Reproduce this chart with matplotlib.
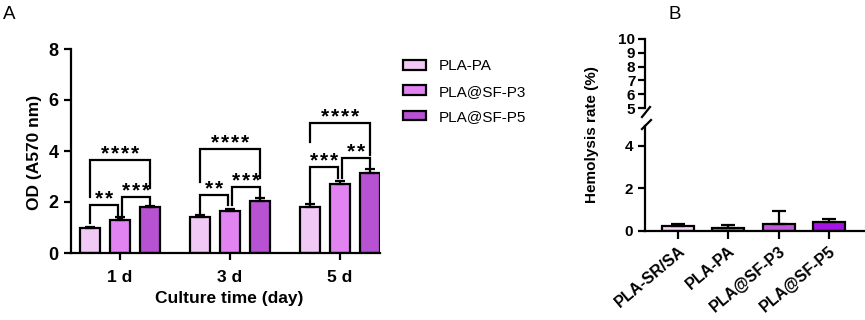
import matplotlib
matplotlib.use("Agg")
import matplotlib.pyplot as plt
from matplotlib.lines import Line2D
from matplotlib.patches import Patch
import numpy as np

plt.rcParams['font.family'] = ['Liberation Sans', 'DejaVu Sans']

# ---------------- data ----------------
days = ['1 d', '3 d', '5 d']
series_a = ['PLA-PA', 'PLA@SF-P3', 'PLA@SF-P5']
od_pa = [1.00, 1.40, 1.80]
od_p3 = [1.29, 1.66, 2.71]
od_p5 = [1.79, 2.05, 3.15]
err_pa = [0.02, 0.08, 0.12]
err_p3 = [0.11, 0.05, 0.12]
err_p5 = [0.04, 0.09, 0.16]
colors_a = ['#f1c9f5', '#e283f2', '#b752d2']

# significance brackets: (group, bar_i, bar_j, top, left_end, right_end, label)
brackets = [
    (0, 0, 1, 1.88, 1.18, 1.37, '**'),
    (0, 1, 2, 2.18, 1.37, 1.82, '***'),
    (0, 0, 2, 3.65, 2.21, 2.55, '****'),
    (1, 0, 1, 2.27, 1.56, 1.88, '**'),
    (1, 1, 2, 2.58, 1.88, 2.21, '***'),
    (1, 0, 2, 4.08, 2.80, 2.95, '****'),
    (2, 0, 1, 3.38, 2.01, 2.93, '***'),
    (2, 1, 2, 3.71, 2.93, 3.38, '**'),
    (2, 0, 2, 5.09, 4.37, 3.84, '****'),
]

samples_b = ['PLA-SR/SA', 'PLA-PA', 'PLA@SF-P3', 'PLA@SF-P5']
hemo = [0.22, 0.15, 0.32, 0.42]
hemo_err = [0.12, 0.12, 0.60, 0.14]
colors_b = ['#f7d6f7', '#c872e2', '#c257dc', '#a514e3']

# ---------------- figure ----------------
W, H = 865, 320
fig = plt.figure(figsize=(W / 100, H / 100), dpi=100)


def px_axes(x0, x1, ytop, ybot):
    return fig.add_axes([x0 / W, (H - ybot) / H, (x1 - x0) / W, (ybot - ytop) / H])


LW = 1.6
tick_kw = dict(width=LW, length=5, direction='out')

# ---------------- Panel A ----------------
axA = px_axes(71, 380, 49, 253)
vals = [od_pa, od_p3, od_p5]
errs = [err_pa, err_p3, err_p5]
x = np.arange(len(days))
off = 0.273
bw = 0.18
for k in range(3):
    xs = x + (k - 1) * off
    axA.bar(xs, vals[k], width=bw, color=colors_a[k], edgecolor='black',
            linewidth=LW, label=series_a[k], zorder=2)
    axA.errorbar(xs, vals[k], yerr=[np.zeros(3), errs[k]], fmt='none',
                 ecolor='black', elinewidth=LW, capsize=3.5, capthick=LW, zorder=3)

for g, i, j, top, yl, yr, lab in brackets:
    xi = g + (i - 1) * off + (0.02 if i == 1 else 0)
    xj = g + (j - 1) * off - (0.02 if j == 1 else 0)
    axA.plot([xi, xi, xj, xj], [yl, top, top, yr], color='black', lw=LW,
             solid_joinstyle='miter', zorder=4, clip_on=False)
    n = len(lab)
    for k in range(n):
        axA.annotate('*', xy=((xi + xj) / 2, top),
                     xytext=((k - (n - 1) / 2) * 7.3, 0.5), textcoords='offset points',
                     ha='center', va='baseline', fontsize=15, fontweight='bold')

axA.set_xlim(-0.445, 2.364)
axA.set_ylim(0, 8)
axA.set_yticks([0, 2, 4, 6, 8])
axA.set_xticks(x)
axA.set_xticklabels(days)
axA.tick_params(axis='both', labelsize=12.5, **tick_kw)
axA.tick_params(axis='x', pad=7)
axA.tick_params(axis='y', pad=4, labelsize=13)
for lab in axA.get_xticklabels() + axA.get_yticklabels():
    lab.set_fontweight('bold')
for s in ['top', 'right']:
    axA.spines[s].set_visible(False)
for s in ['left', 'bottom']:
    axA.spines[s].set_linewidth(LW)

fig.text(229 / W, 1 - 298 / H, 'Culture time (day)', ha='center', va='center',
         fontsize=12.5, fontweight='bold')
fig.text(35 / W, 1 - 152 / H, 'OD (A570 nm)', ha='center', va='center',
         rotation=90, fontsize=12.5, fontweight='bold')

handles = [Patch(facecolor=c, edgecolor='black', linewidth=LW) for c in colors_a]
fig.legend(handles, series_a, loc='upper left', bbox_to_anchor=(397 / W, 1 - 53 / H),
           frameon=False, fontsize=11, handlelength=1.5, handleheight=0.6,
           labelspacing=0.75, handletextpad=0.85, borderaxespad=0)

fig.text(3 / W, 1 - 6 / H, 'A', fontsize=13.5, ha='left', va='top')
fig.text(668 / W, 1 - 6 / H, 'B', fontsize=13.5, ha='left', va='top')

# ---------------- Panel B ----------------
axB = px_axes(645, 865, 126, 231)
axU = px_axes(645, 865, 39, 108)
xb = np.arange(len(samples_b))
axB.bar(xb, hemo, width=0.64, color=colors_b, edgecolor='black', linewidth=LW, zorder=2)
axB.errorbar(xb, hemo, yerr=[np.zeros(4), hemo_err], fmt='none', ecolor='black',
             elinewidth=LW, capsize=5, capthick=LW, zorder=3)
axB.set_xlim(-0.66, 3.72)
axB.set_ylim(0, 4.92)
axB.set_yticks([0, 2, 4])
axB.set_xticks(xb)
axB.set_xticklabels(samples_b, rotation=40, ha='right', rotation_mode='anchor')
axB.tick_params(axis='both', labelsize=11, **tick_kw)
axB.tick_params(axis='x', length=6, pad=3, labelsize=11.5)
for lab in axB.get_xticklabels() + axB.get_yticklabels():
    lab.set_fontweight('bold')
for s in ['top', 'right']:
    axB.spines[s].set_visible(False)
for s in ['left', 'bottom']:
    axB.spines[s].set_linewidth(LW)

axU.set_xlim(-0.66, 3.72)
axU.set_ylim(5, 10)
axU.set_yticks([5, 6, 7, 8, 9, 10])
axU.set_xticks([])
axU.tick_params(axis='y', labelsize=11, pad=2, **tick_kw)
for lab in axU.get_yticklabels():
    lab.set_fontweight('bold')
for s in ['top', 'right', 'bottom']:
    axU.spines[s].set_visible(False)
axU.spines['left'].set_linewidth(LW)
axU.patch.set_alpha(0)

# break marks
for (xa, ya, xb2, yb2) in [(642, 117, 650, 107), (642, 129, 651, 120)]:
    fig.add_artist(Line2D([xa / W, xb2 / W], [1 - ya / H, 1 - yb2 / H],
                          color='black', lw=LW))

fig.text(592 / W, 1 - 135 / H, 'Hemolysis rate (%)', rotation=90, ha='center',
         va='center', fontsize=11, fontweight='bold')

fig.savefig('out.png', dpi=100)
